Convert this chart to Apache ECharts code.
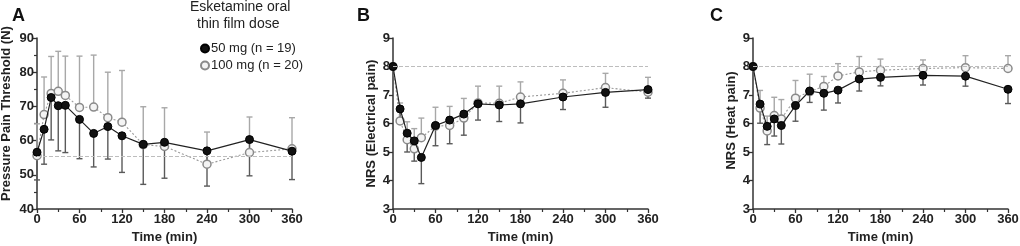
<!DOCTYPE html>
<html><head><meta charset="utf-8">
<script src="https://cdn.jsdelivr.net/npm/echarts@6/dist/echarts.min.js"></script>
<style>html,body{margin:0;padding:0;background:#fff}#c{width:1020px;height:246px}</style>
</head><body><div id="c"></div>
<script>
const times = [0,10,20,30,40,60,80,100,120,150,180,240,300,360];
const xTicks = [0,60,120,180,240,300,360];

const A_50     = [56.6,63.3,72.6,70.2,70.3,66.2,62.1,64.1,61.4,58.9,59.5,57.0,60.3,56.9];
const A_50_low = [48.5,53.1,60.2,57.0,56.5,54.7,52.3,54.6,50.7,47.2,49.0,46.7,49.7,48.6];
const A_100    = [55.6,67.6,73.8,74.4,73.2,69.7,69.8,66.7,65.4,58.8,58.3,53.1,56.5,57.6];
const A_100_up = [64.9,78.6,84.6,86.1,84.7,84.7,85.0,80.0,80.5,69.9,69.6,62.5,66.9,66.7];
const A_base = 55.5;

const B_50     = [8.0,6.51,5.66,5.39,4.81,5.93,6.12,6.33,6.69,6.65,6.69,6.93,7.09,7.19];
const B_50_low = [8.0,6.1,5.0,4.68,3.89,5.22,5.29,5.59,6.12,6.07,6.02,6.49,6.57,6.89];
const B_100    = [8.0,6.09,5.43,5.11,5.5,5.91,5.93,6.19,6.72,6.71,6.93,7.06,7.26,7.1];
const B_100_up = [8.0,6.72,6.06,5.82,6.19,6.57,6.6,6.88,7.31,7.31,7.46,7.53,7.76,7.62];
const B_base = 8;

const C_50     = [8.0,6.68,5.9,6.16,5.93,6.63,7.14,7.06,7.17,7.56,7.62,7.69,7.66,7.2];
const C_50_low = [8.0,6.01,5.26,5.56,5.28,6.08,6.74,6.47,6.72,7.14,7.32,7.35,7.31,6.7];
const C_100    = [8.0,6.54,5.74,6.28,6.16,6.89,7.12,7.3,7.67,7.81,7.87,7.93,7.96,7.93];
const C_100_up = [8.0,7.16,6.26,6.92,6.84,7.51,7.73,7.65,8.1,8.35,8.26,8.23,8.38,8.38];
const C_base = 8;

const yNames = ['Pressure Pain Threshold (N)','NRS (Electrical pain)','NRS (Heat pain)'];
const yRanges = [[40,90,10],[3,9,1],[3,9,1]];
const letters = ['A','B','C'];
const NAME50 = '50 mg (n = 19)', NAME100 = '100 mg (n = 20)';

const FONT = '"Liberation Sans", Arial, Helvetica, sans-serif';
const gridLefts = [37, 393, 753];

function errSeries(idx, means, ends, color){
  return {
    type:'custom', xAxisIndex:idx, yAxisIndex:idx, silent:true, z:2, clip:false,
    renderItem:function(params, api){
      const x=api.value(0), m=api.value(1), e=api.value(2);
      const p0=api.coord([x,m]), p1=api.coord([x,e]); const w=3;
      return {type:'group', children:[
        {type:'line', shape:{x1:p0[0],y1:p0[1],x2:p1[0],y2:p1[1]}, style:{stroke:color,lineWidth:1.4}},
        {type:'line', shape:{x1:p1[0]-w,y1:p1[1],x2:p1[0]+w,y2:p1[1]}, style:{stroke:color,lineWidth:1.4}}
      ]};
    },
    data: times.map((t,i)=>[t,means[i],ends[i]]),
    encode:{x:0,y:[1,2]}
  };
}

const panels = [
  {m50:A_50, l50:A_50_low, m100:A_100, u100:A_100_up, base:A_base},
  {m50:B_50, l50:B_50_low, m100:B_100, u100:B_100_up, base:B_base},
  {m50:C_50, l50:C_50_low, m100:C_100, u100:C_100_up, base:C_base}
];

const grids=[], xAxes=[], yAxes=[], series=[], titles=[];
panels.forEach((p,i)=>{
  grids.push({left:gridLefts[i], top:38, width:255, height:171, outerBoundsMode:'none', containLabel:false});
  titles.push({text:letters[i], left:[7,352,705][i], top:2, textStyle:{fontSize:18, fontWeight:'bold', color:'#111', fontFamily:FONT}});
  xAxes.push({
    type:'value', gridIndex:i, min:0, max:360, interval:60,
    axisLine:{onZero:false, lineStyle:{color:'#333', width:1.5}},
    axisTick:{show:true, length:4, lineStyle:{color:'#333', width:1.3}},
    minorTick:{show:true, splitNumber:2, length:3, lineStyle:{color:'#333', width:1.2}},
    splitLine:{show:false},
    axisLabel:{fontSize:13, fontWeight:'bold', color:'#222', margin:4, fontFamily:FONT,
      formatter:v=>xTicks.includes(v)?String(v):''},
    name:'Time (min)', nameLocation:'middle', nameGap:22,
    nameTextStyle:{fontSize:13, fontWeight:'bold', color:'#222', fontFamily:FONT}
  });
  const r = yRanges[i];
  yAxes.push({
    type:'value', gridIndex:i, min:r[0], max:r[1], interval:r[2],
    axisLine:{show:true, onZero:false, lineStyle:{color:'#333', width:1.5}},
    axisTick:{show:true, length:4, lineStyle:{color:'#333', width:1.3}},
    minorTick:{show:i===0, splitNumber:2, length:3, lineStyle:{color:'#333', width:1.2}},
    splitLine:{show:false},
    axisLabel:{fontSize:13, fontWeight:'bold', color:'#222', margin:3, fontFamily:FONT},
    name:yNames[i], nameLocation:'middle', nameGap:i===0?24:15,
    nameTextStyle:{fontSize:13, fontWeight:'bold', color:'#222', fontFamily:FONT,
      padding:i===0?[0,0,0,20]:(i===2?[0,0,0,6]:0)}
  });
  series.push(errSeries(i, p.m100, p.u100, '#a8a8a8'));
  series.push(errSeries(i, p.m50, p.l50, '#5a5a5a'));
  series.push({
    type:'line', name:NAME100, xAxisIndex:i, yAxisIndex:i, z:3,
    data: times.map((t,k)=>[t,p.m100[k]]),
    symbol:'circle', symbolSize:8,
    lineStyle:{color:'#9a9a9a', width:1.1, type:[2,2]},
    itemStyle:{color:'#f4f4f4', borderColor:'#8a8a8a', borderWidth:1.5},
    markLine:{silent:true, symbol:'none', label:{show:false},
      lineStyle:{color:'#bdbdbd', width:1, type:[4,2]},
      data:[{yAxis:p.base}]},
    animation:false
  });
  series.push({
    type:'line', name:NAME50, xAxisIndex:i, yAxisIndex:i, z:4,
    data: times.map((t,k)=>[t,p.m50[k]]),
    symbol:'circle', symbolSize:8,
    lineStyle:{color:'#222', width:1.2},
    itemStyle:{color:'#111', borderColor:'#000', borderWidth:1},
    animation:false
  });
});

const chart = echarts.init(document.getElementById('c'), null, {renderer:'canvas'});
chart.setOption({
  animation:false,
  backgroundColor:'#fff',
  textStyle:{fontFamily:FONT},
  title:titles,
  grid:grids, xAxis:xAxes, yAxis:yAxes, series:series,
  legend:{data:[NAME50, NAME100], orient:'vertical', left:195, top:37, itemGap:4,
    icon:'circle', itemWidth:8, itemHeight:8, selectedMode:false,
    textStyle:{fontSize:13, color:'#222', fontFamily:FONT, padding:[0,0,0,-3]}},
  graphic:[
    {type:'text', left:190, top:0, style:{text:'Esketamine oral', fontSize:14, fill:'#222', fontFamily:FONT}},
    {type:'text', left:197, top:17, style:{text:'thin film dose', fontSize:14, fill:'#222', fontFamily:FONT}}
  ]
});
</script></body></html>
